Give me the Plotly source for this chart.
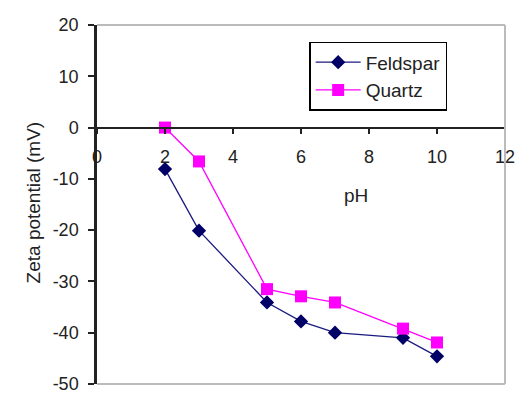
import plotly.graph_objects as go

ph_feldspar = [2, 3, 5, 6, 7, 9, 10]
zeta_feldspar = [-8.1, -20.1, -34.1, -37.8, -40.0, -41.0, -44.6]
ph_quartz = [2, 3, 5, 6, 7, 9, 10]
zeta_quartz = [0, -6.6, -31.5, -32.9, -34.1, -39.2, -41.9]

series_names = ["Feldspar", "Quartz"]
x_ticks = [0, 2, 4, 6, 8, 10, 12]
y_ticks = [20, 10, 0, -10, -20, -30, -40, -50]
y_tick_text = ["20", "10", "0", "-10", "-20", "-30", "-40", "-50"]

fig = go.Figure()
fig.add_trace(go.Scatter(x=ph_feldspar, y=zeta_feldspar, name=series_names[0],
                         mode="lines+markers",
                         line=dict(color="#1a1a80", width=1.3),
                         marker=dict(symbol="diamond", size=11, color="#000066")))
fig.add_trace(go.Scatter(x=ph_quartz, y=zeta_quartz, name=series_names[1],
                         mode="lines+markers",
                         line=dict(color="#ff00ff", width=1.3),
                         marker=dict(symbol="square", size=12, color="#ff00ff")))

font = dict(family="Liberation Sans, Arial, sans-serif", size=18, color="#222")
fig.update_layout(
    width=518, height=394,
    margin=dict(l=97, r=13, t=25, b=10),
    paper_bgcolor="white", plot_bgcolor="white",
    font=font,
    showlegend=True,
    legend=dict(x=0.52, y=0.953, xanchor="left", yanchor="top",
                bordercolor="black", borderwidth=1.5, bgcolor="white",
                font=dict(family=font["family"], size=19, color="#222"),
                tracegroupgap=0, itemwidth=45),
    xaxis=dict(range=[0, 12], tickvals=x_ticks, anchor="free", position=50/70,
               showline=True, linecolor="#222", linewidth=2, ticks="outside",
               ticklen=5, tickwidth=1.5, tickcolor="#222", showgrid=False, zeroline=False,
               ticklabelstandoff=8, automargin=False, ticklabeloverflow="allow"),
    yaxis=dict(range=[-50, 20], tickvals=y_ticks, ticktext=y_tick_text, showline=True,
               linecolor="#222", linewidth=2.5, ticks="outside", ticklen=6, tickwidth=1.5,
               tickcolor="#222", showgrid=False, zeroline=False, ticklabelstandoff=6,
               automargin=False, ticklabeloverflow="allow"),
)
# plot-area frame (top, right, bottom) in light gray
fig.add_shape(type="line", xref="paper", yref="paper", x0=0, x1=1, y0=1, y1=1,
              line=dict(color="#bbbbbb", width=2))
fig.add_shape(type="line", xref="paper", yref="paper", x0=1, x1=1, y0=0, y1=1,
              line=dict(color="#bbbbbb", width=2))
fig.add_shape(type="line", xref="paper", yref="paper", x0=0, x1=1, y0=0, y1=0,
              line=dict(color="#bbbbbb", width=2))
fig.add_annotation(text="pH", xref="paper", yref="paper", x=0.635, y=0.524,
                   showarrow=False, font=dict(family=font["family"], size=19, color="#222"))
fig.add_annotation(text="Zeta potential (mV)", xref="paper", yref="paper", x=-0.184, y=0.507,
                   textangle=-90, showarrow=False,
                   font=dict(family=font["family"], size=19, color="#222"))
fig.write_html("out.html")
